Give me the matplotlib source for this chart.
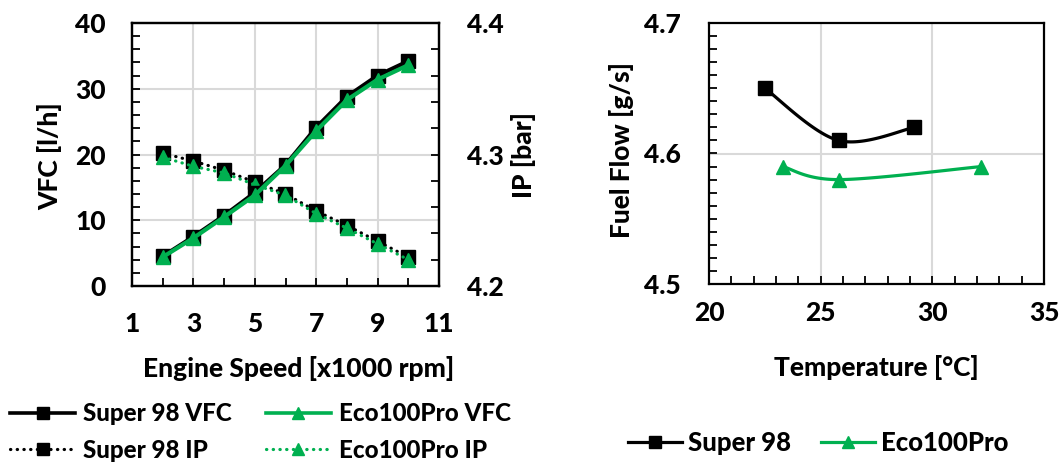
import numpy as np
import matplotlib
matplotlib.use("Agg")
import matplotlib.pyplot as plt
from matplotlib.lines import Line2D
from matplotlib.ticker import MultipleLocator, FixedLocator, FormatStrFormatter
from matplotlib import font_manager as fm

# ---------------- data ----------------
speed = [2, 3, 4, 5, 6, 7, 8, 9, 10]
super98_vfc = [4.5, 7.5, 10.7, 14.2, 18.4, 24.1, 28.8, 32.0, 34.2]
eco_vfc = [4.4, 7.3, 10.5, 13.8, 18.3, 23.6, 28.3, 31.4, 33.6]
super98_ip = [4.301, 4.295, 4.288, 4.279, 4.270, 4.257, 4.246, 4.234, 4.222]
eco_ip = [4.298, 4.291, 4.286, 4.277, 4.269, 4.255, 4.244, 4.232, 4.220]
speed_ticks = [1, 3, 5, 7, 9, 11]

temp_super98 = [22.5, 25.8, 29.2]
flow_super98 = [4.65, 4.61, 4.62]
temp_eco = [23.3, 25.8, 32.2]
flow_eco = [4.59, 4.58, 4.59]

GREEN = '#00B050'
BLACK = '#000000'
GRID = '#D9D9D9'

# bold font lookup
bold_file = None
for pref in ['Lato-Heavy.ttf', 'Lato-ExtraBold.ttf', 'Lato-Bold.ttf']:
    for f in fm.fontManager.ttflist:
        if f.fname.endswith(pref):
            bold_file = f.fname
            break
    if bold_file:
        break


def FP(size):
    if bold_file:
        return fm.FontProperties(fname=bold_file, size=size)
    return fm.FontProperties(family='DejaVu Sans', weight='bold', size=size)


TICK = 19
LAB = 19
LEG1 = 17.4
LEG2 = 18.5

W, H = 1063, 465
fig = plt.figure(figsize=(W / 100, H / 100), dpi=100)


def px_rect(x0, y0, x1, y1):
    return [x0 / W, 1 - y1 / H, (x1 - x0) / W, (y1 - y0) / H]


def style_axis(ax):
    for s in ax.spines.values():
        s.set_linewidth(1.6)
        s.set_color('black')
    ax.tick_params(which='both', direction='in', width=1.3, color='black', length=6)


def bold_ticks(ax):
    for lab in ax.get_xticklabels() + ax.get_yticklabels():
        lab.set_fontproperties(FP(TICK))


def smooth(xs, ys, ax_w, ax_h, xr, yr, n=40):
    # Catmull-Rom style smoothing computed in screen-proportional space
    P = np.column_stack([(np.array(xs) - xr[0]) / (xr[1] - xr[0]) * ax_w,
                         (np.array(ys) - yr[0]) / (yr[1] - yr[0]) * ax_h])
    out = []
    m = len(P)
    for i in range(m - 1):
        p0 = P[i - 1] if i > 0 else P[i]
        p1 = P[i]
        p2 = P[i + 1]
        p3 = P[i + 2] if i + 2 < m else P[i + 1]
        c1 = p1 + (p2 - p0) / 6
        c2 = p2 - (p3 - p1) / 6
        t = np.linspace(0, 1, n)[:, None]
        seg = ((1 - t) ** 3) * p1 + 3 * ((1 - t) ** 2) * t * c1 + 3 * (1 - t) * t ** 2 * c2 + t ** 3 * p2
        out.append(seg if i == 0 else seg[1:])
    C = np.vstack(out)
    cx = C[:, 0] / ax_w * (xr[1] - xr[0]) + xr[0]
    cy = C[:, 1] / ax_h * (yr[1] - yr[0]) + yr[0]
    return cx, cy


ms = 9.8
lw = 2.3
dot = (0, (0.1, 2.0))

# ---------------- left chart ----------------
ax1 = fig.add_axes(px_rect(132, 23, 439, 286))
ax2 = ax1.twinx()
ax1.set_xlim(1, 11)
ax1.set_ylim(0, 40)
ax2.set_ylim(4.2, 4.4)
ax1.xaxis.set_major_locator(FixedLocator(speed_ticks))
ax1.xaxis.set_minor_locator(MultipleLocator(1))
ax1.yaxis.set_major_locator(MultipleLocator(10))
ax1.yaxis.set_minor_locator(MultipleLocator(2))
ax2.yaxis.set_major_locator(MultipleLocator(0.1))
ax2.yaxis.set_minor_locator(MultipleLocator(0.02))
ax1.yaxis.set_major_formatter(FormatStrFormatter('%d'))
ax2.yaxis.set_major_formatter(FormatStrFormatter('%.1f'))
ax1.xaxis.set_major_formatter(FormatStrFormatter('%d'))
for v in [3, 5, 7, 9]:
    ax2.axvline(v, color=GRID, lw=1.5, zorder=0)
for v in [10, 20, 30]:
    ax2.axhline(4.2 + v / 200, color=GRID, lw=1.5, zorder=0)
style_axis(ax1)
style_axis(ax2)
ax1.tick_params(axis='x', which='both', top=False, pad=19)
ax1.tick_params(axis='y', which='both', right=False, pad=19)
ax2.tick_params(axis='y', which='both', left=False, pad=20)
ax2.tick_params(axis='x', which='both', top=False, bottom=False)

ax2.plot(speed, super98_ip, color=BLACK, lw=lw, linestyle=dot, dash_capstyle='round',
         marker='s', ms=ms, zorder=3)
ax2.plot(speed, eco_ip, color=GREEN, lw=lw, linestyle=dot, dash_capstyle='round',
         marker='^', ms=ms + 0.5, zorder=4)
ax1.plot(speed, super98_vfc, color=BLACK, lw=lw + 0.7, marker='s', ms=ms, zorder=5)
ax1.plot(speed, eco_vfc, color=GREEN, lw=lw + 0.7, marker='^', ms=ms + 0.5, zorder=6)
ax1.set_zorder(ax2.get_zorder() + 1)
ax1.patch.set_visible(False)
bold_ticks(ax1)
bold_ticks(ax2)

fig.text(50 / W, 1 - 156 / H, 'VFC [l/h]', rotation=90, ha='center', va='center',
         fontproperties=FP(LAB))
fig.text(523 / W, 1 - 155 / H, 'IP [bar]', rotation=90, ha='center', va='center',
         fontproperties=FP(LAB))
fig.text(299 / W, 1 - 368 / H, 'Engine Speed [x1000 rpm]', ha='center', va='center',
         fontproperties=FP(LAB))

# ---------------- right chart ----------------
ax3 = fig.add_axes(px_rect(709, 23, 1044, 284))
xr, yr = (20, 35), (4.5, 4.7)
ax3.set_xlim(*xr)
ax3.set_ylim(*yr)
ax3.xaxis.set_major_locator(MultipleLocator(5))
ax3.xaxis.set_minor_locator(MultipleLocator(1))
ax3.yaxis.set_major_locator(MultipleLocator(0.1))
ax3.yaxis.set_minor_locator(MultipleLocator(0.01))
ax3.yaxis.set_major_formatter(FormatStrFormatter('%.1f'))
ax3.xaxis.set_major_formatter(FormatStrFormatter('%d'))
for v in [25, 30]:
    ax3.axvline(v, color=GRID, lw=1.5, zorder=0)
ax3.axhline(4.6, color=GRID, lw=1.5, zorder=0)
style_axis(ax3)
ax3.tick_params(axis='x', which='both', top=False, pad=12)
ax3.tick_params(axis='y', which='both', right=False, pad=20)

aw, ah = 335, 261
sx, sy = smooth(temp_super98, flow_super98, aw, ah, xr, yr)
ax3.plot(sx, sy, color=BLACK, lw=lw, zorder=3)
ax3.plot(temp_super98, flow_super98, linestyle='none', color=BLACK, marker='s', ms=ms, zorder=4)
ex, ey = smooth(temp_eco, flow_eco, aw, ah, xr, yr)
ax3.plot(ex, ey, color=GREEN, lw=lw, zorder=3)
ax3.plot(temp_eco, flow_eco, linestyle='none', color=GREEN, marker='^', ms=ms + 0.5, zorder=4)
bold_ticks(ax3)

fig.text(622 / W, 1 - 150 / H, 'Fuel Flow [g/s]', rotation=90, ha='center', va='center',
         fontproperties=FP(LAB))
fig.text(876 / W, 1 - 367 / H, 'Temperature [°C]', ha='center', va='center',
         fontproperties=FP(LAB))

# ---------------- legends ----------------
h_s_vfc = Line2D([], [], color=BLACK, lw=lw + 0.3, marker='s', ms=ms - 1)
h_e_vfc = Line2D([], [], color=GREEN, lw=lw + 0.3, marker='^', ms=ms - 0.5)
h_s_ip = Line2D([], [], color=BLACK, lw=lw, linestyle=dot, dash_capstyle='round', marker='s', ms=ms - 1)
h_e_ip = Line2D([], [], color=GREEN, lw=lw, linestyle=dot, dash_capstyle='round', marker='^', ms=ms - 0.5)
fs1 = LEG1 * 100 / 72
leg1 = fig.legend([h_s_vfc, h_s_ip, h_e_vfc, h_e_ip],
                  ['Super 98 VFC', 'Super 98 IP', 'Eco100Pro VFC', 'Eco100Pro IP'],
                  ncol=2, loc='center left', bbox_to_anchor=(10 / W, 1 - 432 / H),
                  frameon=False, prop=FP(LEG1), handlelength=65 / fs1, handletextpad=8 / fs1,
                  columnspacing=34 / fs1, labelspacing=0.55, borderpad=0, borderaxespad=0)

fs2 = LEG2 * 100 / 72
h_s = Line2D([], [], color=BLACK, lw=lw, marker='s', ms=ms - 1)
h_e = Line2D([], [], color=GREEN, lw=lw, marker='^', ms=ms - 0.5)
leg2 = fig.legend([h_s, h_e], ['Super 98', 'Eco100Pro'], ncol=2, loc='center left',
                  bbox_to_anchor=(628 / W, 1 - 443 / H), frameon=False, prop=FP(LEG2),
                  handlelength=54 / fs2, handletextpad=6 / fs2, columnspacing=30 / fs2,
                  borderpad=0, borderaxespad=0)

fig.savefig('out.png', dpi=100)
